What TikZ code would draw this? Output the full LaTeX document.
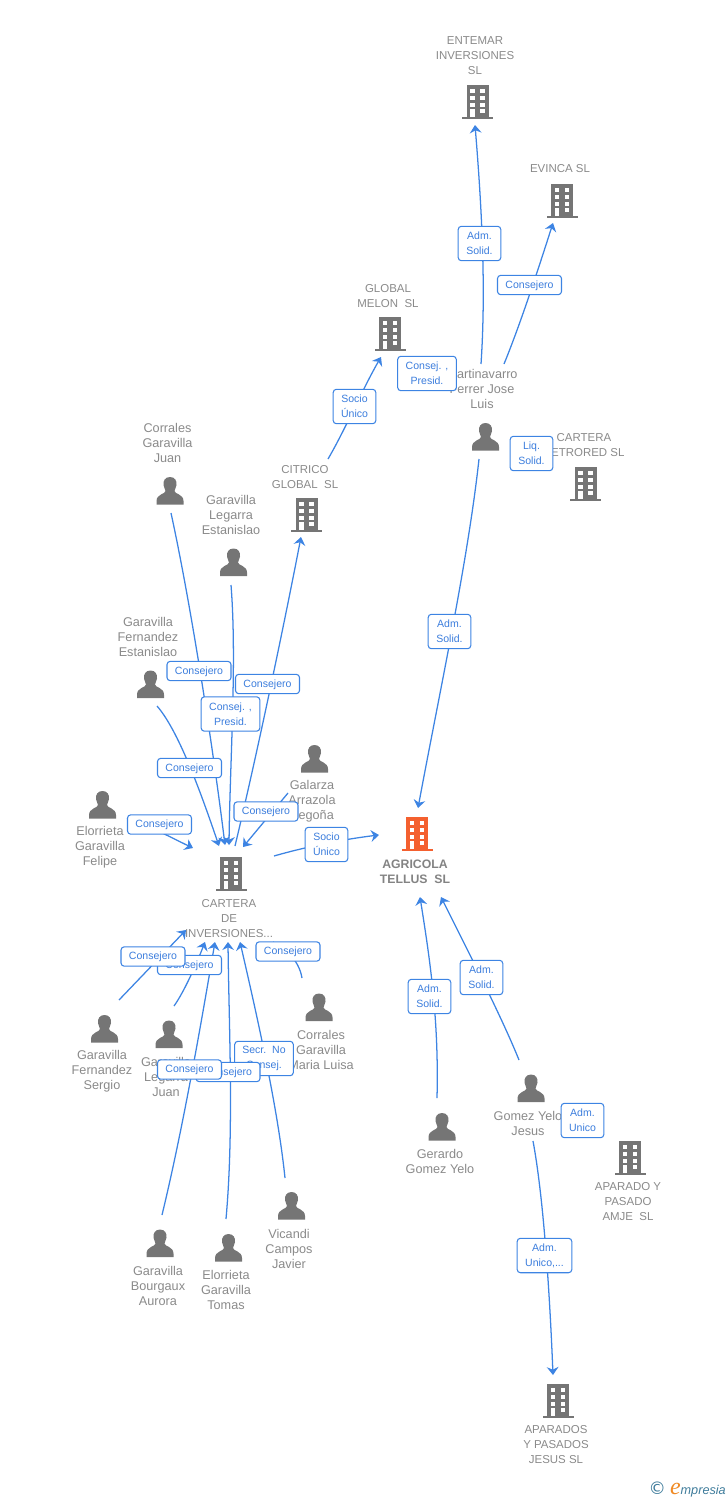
\documentclass[tikz,border=0pt]{standalone}
\usepackage{fontspec}
\setmainfont{Liberation Sans}
\newfontfamily\footserif{Liberation Serif}
\newfontfamily\footsym{DejaVu Sans}
\usetikzlibrary{arrows.meta}
\definecolor{linkblue}{HTML}{3D84E3}
\definecolor{lbltext}{HTML}{3B7DDD}
\definecolor{txtgray}{HTML}{8A8A8A}
\definecolor{icongray}{HTML}{757575}
\definecolor{iconorange}{HTML}{F4602F}
\definecolor{footblue}{HTML}{3F7C9B}
\definecolor{footorange}{HTML}{F08A24}
\tikzset{
  conn/.style={draw=linkblue,line width=0.95pt,-{Stealth[length=6pt,width=8.8pt,inset=2pt]}},
  connplain/.style={draw=linkblue,line width=0.95pt},
  nm/.style={font=\fontsize{9.5}{11.25}\selectfont,text=txtgray,align=center,inner sep=0pt},
  co/.style={nm,font=\fontsize{8.6}{11.25}\selectfont},
  nmbold/.style={nm,font=\fontsize{9.2}{11.25}\selectfont\bfseries,text=icongray!90},
  lbl/.style={draw=linkblue,line width=0.8pt,fill=white,rounded corners=2.4pt,text=lbltext,
    font=\fontsize{7.9}{11.25}\selectfont,align=center,inner sep=0pt},
  lblone/.style={lbl,minimum width=48pt,minimum height=14.5pt,text height=5.7pt,text depth=0.7pt},
  lbltwo/.style={lbl,minimum width=32pt,minimum height=25.8pt},
  lblwide/.style={lbl,minimum width=44pt,minimum height=25.8pt},
  lblmid/.style={lbl,minimum width=41pt,minimum height=25.8pt},
  iconbox/.style={inner sep=0pt,minimum width=24pt,minimum height=26pt},
  bld/.pic={
    \fill[#1] (-11,-17) rectangle (11,15);
    \fill[#1] (-15.5,15) rectangle (15.5,17);
    \foreach \wx in {-7.5,2.5}{
      \foreach \wy in {-13,-6.3,0.5}{
        \fill[white] (\wx,\wy) rectangle ++(4.5,4);
      }
    }
    \fill[white] (-7.5,7.3) rectangle (-3,15);
    \fill[white] (2.5,7.3) rectangle (7,11.3);
  },
  psn/.pic={
    \fill[icongray] (0,-14) .. controls (5,-14) and (7,-10) .. (6.5,-6)
      .. controls (6.2,-3) and (4.5,-1.5) .. (4.5,0)
      .. controls (4.5,3) and (13.5,3) .. (13.5,10) -- (13.5,13.5) -- (-13.5,13.5) -- (-13.5,10)
      .. controls (-13.5,3) and (-4.5,3) .. (-4.5,0)
      .. controls (-4.5,-1.5) and (-6.2,-3) .. (-6.5,-6)
      .. controls (-7,-10) and (-5,-14) .. (0,-14) -- cycle;
  }
}
\begin{document}
\begin{tikzpicture}[x=0.75pt,y=-0.75pt]
\useasboundingbox (0,0) rectangle (728,1500);
% connector end points
\coordinate (martinUpA) at (481,364);
\coordinate (entemarIn) at (475,125);
\coordinate (martinUpB) at (504,364);
\coordinate (evincaIn) at (553,223);
\coordinate (citricoOut) at (328,459);
\coordinate (globalIn) at (381,357);
\coordinate (carteraOutN) at (235,846);
\coordinate (citricoIn) at (301,537);
\coordinate (juanOut) at (171,513);
\coordinate (carteraInA) at (225,845);
\coordinate (estanislaoOut) at (231,585);
\coordinate (carteraInB) at (229,845);
\coordinate (fernEstOut) at (157,706);
\coordinate (carteraInC) at (219,846);
\coordinate (felipeOut) at (127,818);
\coordinate (carteraInD) at (193,848);
\coordinate (galarzaOut) at (288,793);
\coordinate (carteraInE) at (243,847);
\coordinate (carteraOutE) at (274,856);
\coordinate (agricolaInW) at (379,835);
\coordinate (sergioOut) at (119,1000);
\coordinate (carteraInF) at (186,930);
\coordinate (legJuanOut) at (174,1006);
\coordinate (carteraInG) at (205,942);
\coordinate (aurolaOut) at (162,1215);
\coordinate (carteraInH) at (215,942);
\coordinate (tomasOut) at (226,1219);
\coordinate (carteraInI) at (228,942);
\coordinate (vicandiOut) at (285,1178);
\coordinate (carteraInJ) at (240,942);
\coordinate (mluisaOut) at (302,978);
\coordinate (carteraInK) at (273,942);
\coordinate (martinDown) at (479,459);
\coordinate (agricolaInN) at (418,808);
\coordinate (gerardoOut) at (437,1098);
\coordinate (agricolaInA) at (420,897);
\coordinate (gomezUp) at (519,1060);
\coordinate (agricolaInB) at (441,897);
\coordinate (gomezDown) at (533,1141);
\coordinate (aparadosIn) at (553,1375);
% connectors
\draw[conn] (martinUpA) .. controls (486,290) and (482,210) .. (entemarIn);
\draw[conn] (martinUpB) .. controls (520,325) and (538,270) .. (evincaIn);
\draw[conn] (citricoOut) .. controls (345,430) and (362,390) .. (globalIn);
\draw[conn] (carteraOutN) .. controls (258,750) and (285,620) .. (citricoIn);
\draw[conn] (juanOut) .. controls (190,600) and (212,740) .. (carteraInA);
\draw[conn] (estanislaoOut) .. controls (237,660) and (230,760) .. (carteraInB);
\draw[conn] (fernEstOut) .. controls (178,730) and (200,790) .. (carteraInC);
\draw[conn] (felipeOut) .. controls (150,826) and (172,838) .. (carteraInD);
\draw[conn] (galarzaOut) -- (carteraInE);
\draw[conn] (carteraOutE) .. controls (305,847) and (345,839) .. (agricolaInW);
\draw[conn] (sergioOut) -- (carteraInF);
\draw[conn] (legJuanOut) .. controls (184,992) and (196,965) .. (carteraInG);
\draw[conn] (aurolaOut) .. controls (185,1120) and (205,1000) .. (carteraInH);
\draw[conn] (tomasOut) .. controls (234,1130) and (229,1030) .. (carteraInI);
\draw[conn] (vicandiOut) .. controls (278,1110) and (258,1020) .. (carteraInJ);
\draw[connplain] (mluisaOut) .. controls (299,960) and (285,948) .. (carteraInK);
\draw[conn] (martinDown) .. controls (468,560) and (440,690) .. (agricolaInN);
\draw[conn] (gerardoOut) .. controls (439,1020) and (430,960) .. (agricolaInA);
\draw[conn] (gomezUp) .. controls (503,1020) and (470,955) .. (agricolaInB);
\draw[conn] (gomezDown) .. controls (544,1200) and (550,1300) .. (aparadosIn);
% building icons
\path (477.5,102) node[iconbox] (entemar) {} pic {bld=icongray};
\path (562,201) node[iconbox] (evinca) {} pic {bld=icongray};
\path (390,334) node[iconbox] (globalmelon) {} pic {bld=icongray};
\path (306.5,515) node[iconbox] (citrico) {} pic {bld=icongray};
\path (585.5,484) node[iconbox] (petrored) {} pic {bld=icongray};
\path (231,874) node[iconbox] (cartera) {} pic {bld=icongray};
\path (417,834) node[iconbox] (agricola) {} pic {bld=iconorange};
\path (630,1158) node[iconbox] (aparado) {} pic {bld=icongray};
\path (558,1401) node[iconbox] (aparados) {} pic {bld=icongray};
% person icons
\path (170,491) node[iconbox] (pJuan) {} pic {psn};
\path (233.5,562.5) node[iconbox] (pEstanislao) {} pic {psn};
\path (150.5,684.5) node[iconbox] (pFernEst) {} pic {psn};
\path (102.5,805) node[iconbox] (pFelipe) {} pic {psn};
\path (314.5,759) node[iconbox] (pGalarza) {} pic {psn};
\path (104.5,1029) node[iconbox] (pSergio) {} pic {psn};
\path (169,1034.5) node[iconbox] (pLegJuan) {} pic {psn};
\path (319,1007.5) node[iconbox] (pLuisa) {} pic {psn};
\path (160,1243.5) node[iconbox] (pAurora) {} pic {psn};
\path (228.5,1248) node[iconbox] (pTomas) {} pic {psn};
\path (291.5,1206) node[iconbox] (pVicandi) {} pic {psn};
\path (442,1127) node[iconbox] (pGerardo) {} pic {psn};
\path (531,1088.5) node[iconbox] (pGomez) {} pic {psn};
\path (485.5,437) node[iconbox] (pMartin) {} pic {psn};
% names
\node[co] (tEntemar) at (475,56) {ENTEMAR\\INVERSIONES\\SL};
\node[co] (tEvinca) at (560,169) {EVINCA SL};
\node[co] (tGlobal) at (388,296.5) {GLOBAL\\MELON~~SL};
\node[co] (tCitrico) at (305,477) {CITRICO\\GLOBAL~~SL};
\node[nm] (tJuan) at (167.5,443) {Corrales\\Garavilla\\Juan};
\node[nm] (tEstanislao) at (231,515) {Garavilla\\Legarra\\Estanislao};
\node[nm] (tFernEst) at (148,637) {Garavilla\\Fernandez\\Estanislao};
\node[nm] (tFelipe) at (100,847) {Elorrieta\\Garavilla\\Felipe};
\node[nm] (tGalarza) at (312,801) {Galarza\\Arrazola\\Begoña};
\node[co] (tCartera) at (229,919) {CARTERA\\DE\\INVERSIONES...};
\node[nmbold] (tAgricola) at (415,871.5) {AGRICOLA\\TELLUS~~SL};
\node[nm] (tSergio) at (102,1071) {Garavilla\\Fernandez\\Sergio};
\node[nm] (tLegJuan) at (166,1077) {Garavilla\\Legarra\\Juan};
\node[nm] (tLuisa) at (321,1050) {Corrales\\Garavilla\\Maria Luisa};
\node[nm] (tAurora) at (158,1286) {Garavilla\\Bourgaux\\Aurora};
\node[nm] (tTomas) at (226,1290) {Elorrieta\\Garavilla\\Tomas};
\node[nm] (tVicandi) at (289,1249) {Vicandi\\Campos\\Javier};
\node[nm] (tGerardo) at (440,1161.5) {Gerardo\\Gomez Yelo};
\node[nm] (tGomez) at (528,1123.5) {Gomez Yelo\\Jesus};
\node[nm] (tMartin) at (482,389) {Martinavarro\\Ferrer Jose\\Luis};
\node[co] (tPetrored) at (584,445) {CARTERA\\PETRORED SL};
\node[co] (tAparado) at (628,1202) {APARADO Y\\PASADO\\AMJE~~SL};
\node[co] (tAparados) at (556,1445) {APARADOS\\Y PASADOS\\JESUS SL};
% edge labels
\node[lbltwo] (l1) at (479.5,243.5) {Adm.\\Solid.};
\node[lblone] (l2) at (529.5,285) {Consejero};
\node[lblwide] (l3) at (427,373.5) {Consej. ,\\Presid.};
\node[lbltwo] (l4) at (354.5,406.5) {Socio\\Único};
\node[lbltwo] (l5) at (531.5,453.5) {Liq.\\Solid.};
\node[lblone] (l6) at (199,671) {Consejero};
\node[lblone] (l7) at (267.5,684) {Consejero};
\node[lblwide] (l8) at (230.5,714) {Consej. ,\\Presid.};
\node[lblone] (l9) at (189.5,768) {Consejero};
\node[lblone] (l10) at (159.5,824.5) {Consejero};
\node[lblone] (l11) at (266,811.5) {Consejero};
\node[lbltwo] (l12) at (326.5,844.5) {Socio\\Único};
\node[lbltwo] (l13) at (449.5,631.5) {Adm.\\Solid.};
\node[lblone] (l14) at (189.5,965) {Consejero};
\node[lblone] (l15) at (153,956.5) {Consejero};
\node[lblone] (l16) at (288,951.5) {Consejero};
\node[lblwide] (l17) at (264,1058.5) {Secr.~~No\\Consej.};
\node[lblone] (l18) at (228,1072) {Consejero};
\node[lblone] (l19) at (189.5,1069.5) {Consejero};
\node[lbltwo] (l20) at (429.5,996.5) {Adm.\\Solid.};
\node[lbltwo] (l21) at (481.5,977.5) {Adm.\\Solid.};
\node[lbltwo] (l22) at (582.5,1120.5) {Adm.\\Unico};
\node[lblmid] (l23) at (544.5,1255.5) {Adm.\\Unico,...};
% footer
\node[inner sep=0pt,anchor=east] (footer) at (726,1490)
  {{\footsym\fontsize{13}{14}\selectfont\color{footblue}©}\hspace{3pt}{\footserif\itshape\fontsize{18}{18}\selectfont\color{footorange}e}{\itshape\fontsize{9.5}{12}\selectfont\color{footblue}mpresia}};
\end{tikzpicture}
\end{document}
